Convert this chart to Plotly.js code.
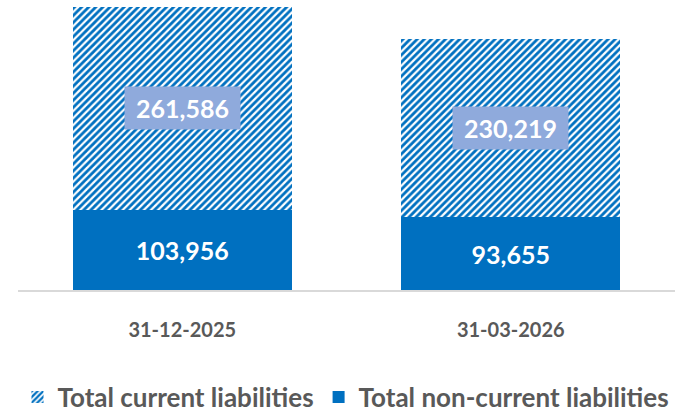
<!DOCTYPE html>
<html><head><meta charset="utf-8">
<script src="https://cdn.plot.ly/plotly-3.0.1.min.js"></script>
<style>html,body{margin:0;padding:0;background:#fff;}#chart{width:692px;height:414px;}</style>
</head><body><div id="chart"></div>
<script>
const categories = ["31-12-2025", "31-03-2026"];
const nonCurrent = [103956, 93655];
const current = [261586, 230219];
const seriesNames = ["Total current liabilities", "Total non-current liabilities"];

const fmt = v => v.toLocaleString("en-US");
const FONT = "Lato, 'Open Sans', sans-serif";

const traces = [
  {type: "bar", name: seriesNames[1], x: categories, y: nonCurrent,
   marker: {color: "#0070C0", line: {width: 0}}, legendrank: 2,
   text: nonCurrent.map(fmt), textposition: "inside", insidetextanchor: "middle",
   textfont: {family: FONT, size: 25, color: "#ffffff", weight: "bold"}, hoverinfo: "none"},
  {type: "bar", name: seriesNames[0], x: categories, y: current,
   marker: {color: "#ffffff", line: {width: 0},
     pattern: {shape: "/", fgcolor: "#0070C0", bgcolor: "#ffffff", size: 5, solidity: 0.55}},
   legendrank: 1, hoverinfo: "none"}
];

const annotations = categories.map((c, i) => ({
  x: c, y: nonCurrent[i] + current[i] / 2, xref: "x", yref: "y",
  text: "<b>" + fmt(current[i]) + "</b>", showarrow: false,
  font: {family: FONT, size: 25, color: "#ffffff"},
  bgcolor: "#8FAADC", borderpad: 6, width: 103, height: 30
}));

const maxTotal = Math.max(...categories.map((c, i) => nonCurrent[i] + current[i]));

const layout = {
  width: 692, height: 414,
  margin: {l: 18, r: 17, t: 0, b: 124, autoexpand: false},
  paper_bgcolor: "#ffffff", plot_bgcolor: "#ffffff",
  barmode: "stack", bargap: 0.333,
  font: {family: FONT},
  xaxis: {showgrid: false, showline: true, linecolor: "#D9D9D9", linewidth: 1.5,
    ticks: "", tickfont: {family: FONT, size: 20, color: "#595959", weight: "bold"},
    ticklabelstandoff: 21},
  yaxis: {visible: false, range: [0, maxTotal * 290 / 283], showgrid: false, zeroline: false},
  showlegend: true,
  legend: {orientation: "h", xref: "container", yref: "container",
    x: 0.5, xanchor: "center", y: 0.041, yanchor: "middle",
    font: {family: FONT, size: 26, color: "#595959", weight: "bold"},
    itemwidth: 30, traceorder: "normal"},
  annotations: annotations
};

Plotly.newPlot("chart", traces, layout, {displayModeBar: false, staticPlot: true});
</script></body></html>
